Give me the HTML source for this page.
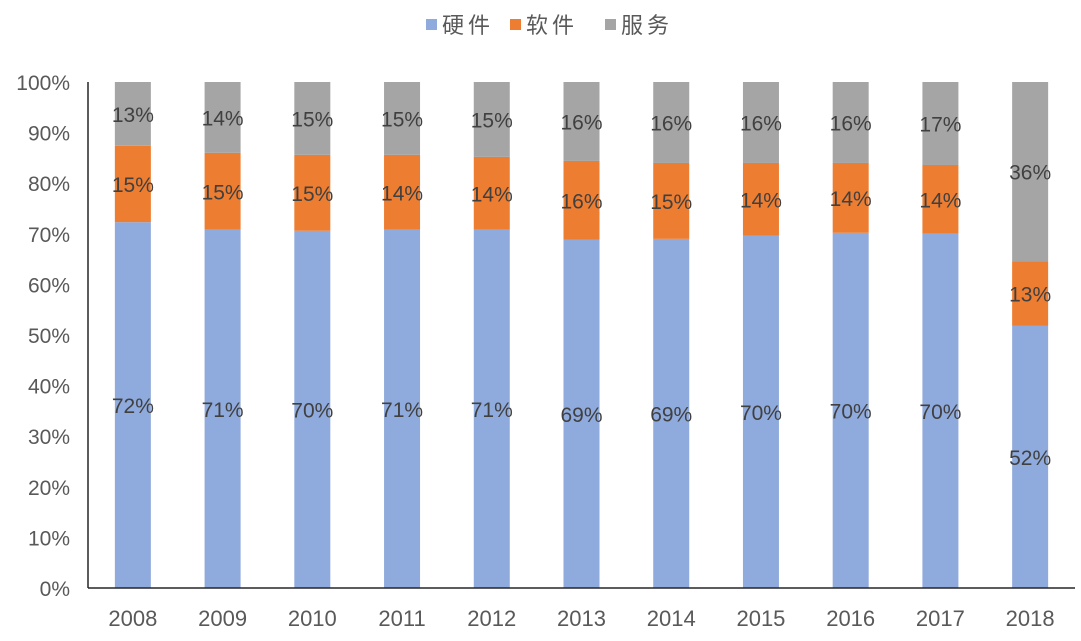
<!DOCTYPE html>
<html><head><meta charset="utf-8"><style>
body{margin:0;background:#fff}
svg{display:block;font-family:"Liberation Sans","Noto Sans CJK SC",sans-serif}
</style></head><body>
<svg id="chart" width="1081" height="641">
<g id="legend"></g>
<g id="grid"></g><g id="bars"></g><g id="axes"></g>
</svg>
<script>
const categories=["2008","2009","2010","2011","2012","2013","2014","2015","2016","2017","2018"];
const hardware=[72.3,70.8,70.6,70.8,70.8,68.8,69.0,69.6,70.2,70.0,51.8];
const software=[15.1,15.2,15.0,14.8,14.4,15.6,15.0,14.4,13.8,13.6,12.8];
const hardwareLabels=["72%","71%","70%","71%","71%","69%","69%","70%","70%","70%","52%"];
const softwareLabels=["15%","15%","15%","14%","14%","16%","15%","14%","14%","14%","13%"];
const serviceLabels=["13%","14%","15%","15%","15%","16%","16%","16%","16%","17%","36%"];
const yTicks=[0,10,20,30,40,50,60,70,80,90,100];
const seriesNames=["硬件","软件","服务"];
const colors=["#8FAADC","#ED7D31","#A5A5A5"];
const NS="http://www.w3.org/2000/svg";
const y0=588,y1=82,xL=88,xR=1075;
const y=v=>y0-(y0-y1)*v/100;
const step=(xR-xL)/categories.length;
const xc=i=>xL+step*(i+0.5);
const bw=36;
function mk(tag,attrs,parent,text){const e=document.createElementNS(NS,tag);for(const k in attrs)e.setAttribute(k,attrs[k]);if(text!==undefined)e.textContent=text;parent.appendChild(e);return e;}
const axes=document.getElementById('axes'),bars=document.getElementById('bars'),legend=document.getElementById('legend');
yTicks.forEach(t=>{
 const e=mk('text',{x:70,y:y(t)+8,'text-anchor':'end','font-size':21,fill:'#595959'},axes,t+'%');
 
 
});
const ax=mk('line',{x1:xL,x2:xR,y1:y0,y2:y0,stroke:'#262626','stroke-width':1.5},axes);


const ayl=mk('line',{x1:xL,x2:xL,y1:y1,y2:y0,stroke:'#262626','stroke-width':1.5},axes);


categories.forEach((c,i)=>{
 const t=mk('text',{x:xc(i),y:626,'text-anchor':'middle','font-size':22,fill:'#595959'},axes,c);
 
 
 const vals=[hardware[i],software[i],100-hardware[i]-software[i]];
 const labs=[hardwareLabels[i],softwareLabels[i],serviceLabels[i]];
 let base=0;
 vals.forEach((v,s)=>{
  const r=mk('rect',{x:xc(i)-bw/2,y:y(base+v),width:bw,height:y(base)-y(base+v),fill:colors[s]},bars);
  
  
  const l=mk('text',{x:xc(i),y:y(base+v/2)+8,'text-anchor':'middle','font-size':21,fill:'#404040'},bars,labs[s]);
  
  
  base+=v;
 });
});
const lx=[426,510,605];
seriesNames.forEach((n,s)=>{
 const r=mk('rect',{x:lx[s],y:19,width:11,height:11,fill:colors[s]},legend);
 
 
 const t=mk('text',{x:lx[s]+16,y:33,'font-size':22,fill:'#595959','letter-spacing':4},legend,n);
 
 
});
</script>
</body></html>
